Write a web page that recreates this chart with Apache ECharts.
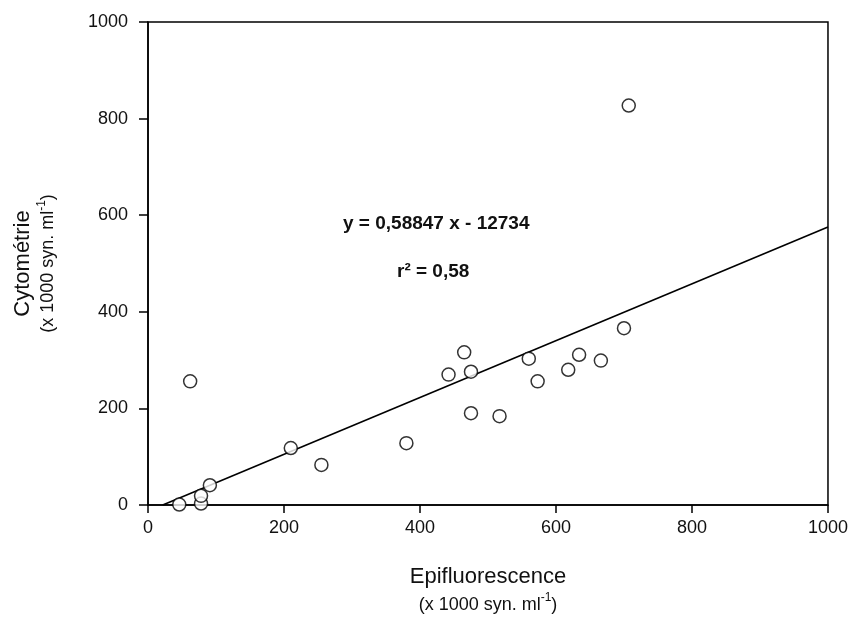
<!DOCTYPE html>
<html>
<head>
<meta charset="utf-8">
<script src="https://cdn.jsdelivr.net/npm/echarts@6/dist/echarts.min.js"></script>
<style>
  html, body { margin: 0; padding: 0; background: #fff; }
  #chart { width: 851px; height: 619px; }
</style>
</head>
<body>
<div id="chart"></div>
<script>
// Counts in thousands of Synechococcus cells per ml
const epifluorescence = [46, 78, 78, 91, 62, 210, 255, 380, 442, 465, 475, 475, 517, 560, 573, 618, 634, 666, 700, 707];
const cytometrie      = [1, 3, 19, 41, 256, 118, 83, 128, 270, 316, 276, 190, 184, 303, 256, 280, 311, 299, 366, 827];

// Linear fit reported on the chart (intercept in thousands)
const slope = 0.58847;
const intercept = -12.734;
const r2 = '0,58';

const xTicks = [0, 200, 400, 600, 800, 1000];
const yTicks = [0, 200, 400, 600, 800, 1000];

const points = epifluorescence.map((x, i) => [x, cytometrie[i]]);
const xStart = -intercept / slope;
const fitLine = [[xStart, slope * xStart + intercept], [1000, slope * 1000 + intercept]];

const font = 'Liberation Sans, Arial, sans-serif';
const chart = echarts.init(document.getElementById('chart'), null, { renderer: 'canvas' });

const nameRich = (tLH, sLH) => ({
  t: { fontSize: 22, fontFamily: font, color: '#111', lineHeight: tLH },
  s: { fontSize: 18, fontFamily: font, color: '#111', lineHeight: sLH },
  sup: { fontSize: 12, fontFamily: font, color: '#111', lineHeight: sLH, verticalAlign: 'top', padding: [0, 0, 10, 0] }
});

chart.setOption({
  backgroundColor: '#fff',
  animation: false,
  grid: { left: 148, right: 22, top: 22, bottom: 112, show: true, borderColor: '#000', borderWidth: 1.5 },
  xAxis: {
    type: 'value', min: xTicks[0], max: xTicks[xTicks.length - 1], interval: 200,
    axisLine: { lineStyle: { color: '#000', width: 1.5 } },
    axisTick: { length: 8, lineStyle: { color: '#000', width: 1.5 } },
    axisLabel: { color: '#111', fontSize: 18, fontFamily: font, margin: 14, formatter: v => String(v) },
    splitLine: { show: false },
    name: '{t|Epifluorescence}\n{s|(x 1000 syn. ml}{sup|-1}{s|)}',
    nameLocation: 'middle', nameGap: 57,
    nameTextStyle: { fontFamily: font, color: '#111', rich: nameRich(30, 26) }
  },
  yAxis: {
    type: 'value', min: yTicks[0], max: yTicks[yTicks.length - 1], interval: 200,
    axisLine: { lineStyle: { color: '#000', width: 1.5 } },
    axisTick: { length: 9, lineStyle: { color: '#000', width: 1.5 } },
    axisLabel: { color: '#111', fontSize: 18, fontFamily: font, margin: 20, formatter: v => String(v) },
    splitLine: { show: false },
    name: '{t|Cytométrie}\n{s|(x 1000 syn. ml}{sup|-1}{s|)}',
    nameLocation: 'middle', nameGap: 88, nameRotate: 90,
    nameTextStyle: { fontFamily: font, color: '#111', rich: nameRich(26, 24) }
  },
  graphic: [
    { type: 'text', left: 343, top: 214, style: { text: 'y = 0,58847 x - 12734', font: 'bold 19px ' + font, fill: '#111' } },
    { type: 'text', left: 397, top: 262, style: { text: 'r² = ' + r2, font: 'bold 19px ' + font, fill: '#111' } }
  ],
  series: [
    {
      type: 'line', data: fitLine, showSymbol: false, symbol: 'none',
      lineStyle: { color: '#000', width: 1.6 }, z: 2
    },
    {
      type: 'scatter', data: points, symbol: 'circle', symbolSize: 13,
      itemStyle: { color: '#fff', borderColor: '#000', borderWidth: 1.5 }, z: 3
    }
  ]
});
</script>
</body>
</html>
